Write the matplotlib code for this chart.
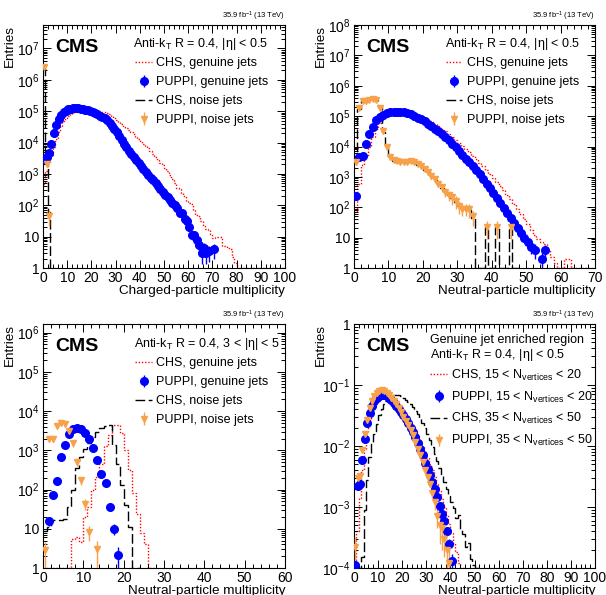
import numpy as np
import matplotlib
matplotlib.use('Agg')
import matplotlib.pyplot as plt
from matplotlib.ticker import FixedLocator, FuncFormatter, MultipleLocator, LogLocator, NullFormatter
from matplotlib.lines import Line2D

plt.rcParams['font.family'] = ['Liberation Sans', 'DejaVu Sans']
plt.rcParams['mathtext.fontset'] = 'custom'
plt.rcParams['mathtext.rm'] = 'Liberation Sans'
plt.rcParams['mathtext.it'] = 'Liberation Sans:italic'
plt.rcParams['mathtext.bf'] = 'Liberation Sans:bold'
plt.rcParams['mathtext.sf'] = 'Liberation Sans'

# ---------------- colours ----------------
C_RED = '#ff0000'
C_BLUE = '#0000ff'
C_BLACK = '#000000'
C_ORANGE = '#f7a24a'

# ---------------- panel 1: charged multiplicity, |eta|<0.5 ----------------
p1_chs_gen = [470, 1200, 2300, 4000, 7000, 1.3e4, 2.2e4, 3.4e4, 4.8e4, 6.0e4,
              7.0e4, 7.9e4, 8.6e4, 9.3e4, 1.0e5, 1.04e5, 1.07e5, 1.07e5, 1.07e5, 1.05e5,
              1.03e5, 1.0e5, 9.8e4, 9.6e4, 9.4e4, 9.2e4, 9.0e4, 8.2e4, 7.2e4, 6.2e4,
              5.3e4, 4.5e4, 3.9e4, 3.4e4, 2.9e4, 2.5e4, 2.15e4, 1.82e4, 1.55e4, 1.32e4,
              1.12e4, 9.3e3, 7.8e3, 6.5e3, 5.2e3, 4.3e3, 3.5e3, 2.8e3, 2.3e3, 1.86e3,
              1.5e3, 1.25e3, 950, 710, 500, 355, 320, 250, 200, 140,
              120, 112, 70, 50, 45, 32, 22, 18, 16, 12.5,
              9, 10, 10, 10, 5, 5, 4.5, 4, 2.3, 1.4,
              0, 0, 0, 0, 0, 0, 0, 0, 0, 0,
              0, 0, 0, 0, 0, 0, 0, 0, 0, 0]
p1_puppi_gen = [3.0e3, 3.5e3, 4.6e3, 9.0e3, 2.0e4, 3.5e4, 5.6e4, 7.6e4, 9.3e4, 1.05e5,
                1.15e5, 1.2e5, 1.23e5, 1.24e5, 1.23e5, 1.21e5, 1.18e5, 1.13e5, 1.08e5, 1.02e5,
                9.4e4, 8.7e4, 7.9e4, 7.2e4, 6.6e4, 5.9e4, 5.1e4, 4.3e4, 3.4e4, 2.7e4,
                2.1e4, 1.62e4, 1.23e4, 9.1e3, 7.1e3, 5.5e3, 4.4e3, 3.5e3, 2.75e3, 2.2e3,
                1.74e3, 1.41e3, 1.15e3, 930, 760, 620, 500, 410, 330, 270,
                220, 178, 145, 120, 100, 80, 57, 56, 36, 32,
                21, 11, 11, 8, 5.5, 3, 4.2, 3, 3.4, 0,
                3.9]
p1_puppi_gen_err = [0] * 60 + [4.6, 3.3, 3.3, 2.8, 2.3, 1.7, 2.0, 1.7, 1.8, 0, 2.0]
p1_chs_noise = [2.4e6, 2.1e3, 60, 0, 0]
p1_puppi_noise = [2.5e6, 2.0e3, 47]
p1_puppi_noise_err = [0, 300, 25]

# ---------------- panel 2: neutral multiplicity, |eta|<0.5 ----------------
p2_chs_gen = [70, 600, 2.5e3, 5.0e3, 1.0e4, 2.0e4, 3.8e4, 6.0e4, 8.5e4, 1.05e5,
              1.2e5, 1.3e5, 1.36e5, 1.38e5, 1.36e5, 1.31e5, 1.24e5, 1.15e5, 1.05e5, 9.4e4,
              8.3e4, 7.3e4, 6.3e4, 5.4e4, 4.6e4, 3.9e4, 3.2e4, 2.6e4, 2.1e4, 1.7e4,
              1.35e4, 1.07e4, 8.4e3, 6.5e3, 5.0e3, 3.8e3, 2.9e3, 2.2e3, 1.65e3, 1.25e3,
              930, 690, 500, 360, 260, 180, 125, 85, 60, 40,
              28, 18, 12, 9, 7, 6, 4, 2.3, 1.5, 0,
              0, 2, 2, 0, 0, 0, 0, 0, 0, 0]
p2_puppi_gen = [240, 4.6e3, 4.8e3, 1.2e4, 2.5e4, 4.4e4, 7.2e4, 9.5e4, 1.12e5, 1.25e5,
                1.33e5, 1.38e5, 1.4e5, 1.38e5, 1.33e5, 1.25e5, 1.15e5, 1.03e5, 9.0e4, 7.8e4,
                6.7e4, 5.7e4, 4.7e4, 3.9e4, 3.2e4, 2.6e4, 2.05e4, 1.6e4, 1.25e4, 9.5e3,
                7.0e3, 5.3e3, 4.0e3, 3.0e3, 2.25e3, 1.65e3, 1.2e3, 850, 600, 420,
                290, 200, 140, 95, 65, 45, 31, 21, 14, 10,
                7, 5, 4, 0, 2, 3.8]
p2_puppi_gen_err = [0] * 50 + [2.6, 2.2, 2.0, 0, 1.4, 2.0]
p2_chs_noise = [3.0e3, 1.7e5, 3.1e5, 3.2e5, 3.3e5, 3.6e5, 3.4e5, 2.0e5, 3.0e4, 1.1e4,
                4.5e3, 3.4e3, 3.2e3, 3.1e3, 3.0e3, 3.2e3, 3.2e3, 2.9e3, 2.5e3, 2.2e3,
                1.7e3, 1.4e3, 1.1e3, 800, 600, 440, 330, 250, 200, 150,
                110, 95, 85, 80, 45, 0, 0, 0, 22, 0,
                0, 22, 0, 0, 0, 22, 0, 0]
p2_puppi_noise = [3.0e3, 1.8e5, 3.2e5, 3.2e5, 3.3e5, 3.7e5, 3.5e5, 1.9e5, 3.3e4, 1.0e4,
                  4.4e3, 3.5e3, 3.3e3, 3.1e3, 3.0e3, 3.1e3, 3.3e3, 3.0e3, 2.6e3, 2.2e3,
                  1.8e3, 1.4e3, 1.1e3, 850, 600, 450, 330, 250, 220, 160,
                  110, 90, 90, 85, 50, 0, 0, 0, 22, 0,
                  0, 22, 0, 0, 0, 22]
p2_puppi_noise_err = [600, 0, 0, 0, 0, 0, 0, 0, 3000, 1000,
                      500, 400, 400, 400, 400, 400, 400, 400, 350, 300,
                      300, 250, 250, 200, 150, 130, 110, 90, 100, 70,
                      50, 40, 40, 40, 25, 0, 0, 0, 13, 0,
                      0, 13, 0, 0, 0, 13]

# ---------------- panel 3: neutral multiplicity, 3<|eta|<5 ----------------
p3_chs_gen = [0, 0, 0, 0, 0, 0, 0, 5.6, 6.2, 4.6,
              20, 36, 96, 210, 460, 1.3e3, 2.5e3, 4.4e3, 4.5e3, 2.8e3,
              1.0e3, 310, 80, 24, 8, 4, 0, 0]
p3_puppi_gen = [0, 16, 72, 166, 680, 1.4e3, 2.6e3, 3.4e3, 3.6e3, 3.4e3,
                2.8e3, 1.9e3, 1.15e3, 580, 256, 150, 35, 10, 2.1]
p3_puppi_gen_err = [0, 4, 8, 0, 0, 0, 0, 0, 0, 0,
                    0, 0, 0, 0, 0, 0, 5, 3, 1.4]
p3_chs_noise = [9, 11, 17, 17, 17, 18, 36, 96, 345, 680,
                1.07e3, 1.5e3, 2.2e3, 3.0e3, 3.6e3, 4.1e3, 4.4e3, 1.35e3, 460, 130,
                40, 11, 0, 0]
p3_puppi_noise = [2.8, 2.0e3, 1.9e3, 4.1e3, 5.0e3, 4.7e3, 3.2e3, 1.5e3, 500, 173,
                  44, 8.5, 0, 3.0]
p3_puppi_noise_err = [1.8, 300, 300, 500, 600, 500, 400, 250, 100, 40,
                      14, 3.5, 0, 2.0]

# ---------------- panel 4: normalised, genuine-jet enriched region ----------------
p4_chs_low = [1.0e-4, 4.0e-4, 1.4e-3, 4.0e-3, 9.0e-3, 1.7e-2, 2.7e-2, 3.7e-2, 4.7e-2, 5.4e-2,
              5.9e-2, 6.2e-2, 6.3e-2, 6.2e-2, 6.0e-2, 5.6e-2, 5.2e-2, 4.8e-2, 4.3e-2, 3.9e-2,
              3.5e-2, 3.1e-2, 2.7e-2, 2.35e-2, 2.0e-2, 1.7e-2, 1.45e-2, 1.2e-2, 9.8e-3, 8.0e-3,
              6.4e-3, 5.1e-3, 4.0e-3, 3.1e-3, 2.4e-3, 1.8e-3, 1.35e-3, 1.0e-3, 7.3e-4, 5.2e-4,
              3.7e-4, 2.6e-4, 1.8e-4, 1.2e-4, 0, 0]
p4_puppi_low = [1.1e-4, 2.2e-3, 2.4e-3, 6.0e-3, 1.3e-2, 2.4e-2, 3.5e-2, 4.6e-2, 5.5e-2, 6.1e-2,
                6.6e-2, 6.9e-2, 6.8e-2, 6.5e-2, 6.1e-2, 5.6e-2, 5.1e-2, 4.6e-2, 4.1e-2, 3.6e-2,
                3.2e-2, 2.75e-2, 2.35e-2, 2.0e-2, 1.7e-2, 1.4e-2, 1.1e-2, 8.8e-3, 7.0e-3, 5.3e-3,
                4.2e-3, 3.3e-3, 2.6e-3, 2.0e-3, 1.45e-3, 1.05e-3, 7.8e-4, 5.8e-4, 4.0e-4, 2.5e-4,
                1.3e-4]
p4_puppi_low_err = [0] * 38 + [5e-5, 5e-5, 4e-5]
p4_chs_high = [0, 0, 0, 1.5e-4, 9.0e-4, 2.8e-3, 6.5e-3, 1.1e-2, 1.6e-2, 2.3e-2,
               3.2e-2, 4.0e-2, 4.8e-2, 5.5e-2, 6.1e-2, 6.5e-2, 6.8e-2, 6.9e-2, 6.8e-2, 6.5e-2,
               6.1e-2, 5.7e-2, 5.2e-2, 4.8e-2, 4.3e-2, 3.8e-2, 3.3e-2, 2.9e-2, 2.4e-2, 2.0e-2,
               1.6e-2, 1.25e-2, 9.5e-3, 7.3e-3, 5.6e-3, 4.3e-3, 3.3e-3, 2.6e-3, 2.0e-3, 1.5e-3,
               1.2e-3, 9.5e-4, 6.5e-4, 7.5e-4, 4.2e-4, 3.6e-4, 2.2e-4, 2.6e-4, 1.4e-4, 1.1e-4,
               0, 0]
p4_puppi_high = [2.2e-4, 3.0e-3, 3.2e-3, 8.7e-3, 1.6e-2, 2.7e-2, 4.2e-2, 5.5e-2, 6.5e-2, 7.4e-2,
                 8.0e-2, 8.2e-2, 8.0e-2, 7.5e-2, 6.9e-2, 6.2e-2, 5.5e-2, 4.8e-2, 4.2e-2, 3.6e-2,
                 3.0e-2, 2.6e-2, 2.2e-2, 1.8e-2, 1.5e-2, 1.15e-2, 9.0e-3, 7.0e-3, 5.5e-3, 4.0e-3,
                 3.1e-3, 2.4e-3, 1.7e-3, 1.2e-3, 7.0e-4, 5.0e-4, 4.5e-4, 3.0e-4, 2.0e-4, 1.2e-4]
p4_puppi_high_err = [1e-4, 3e-4, 3e-4, 5e-4, 0, 0, 0, 0, 0, 0,
                     0, 0, 0, 0, 0, 0, 0, 0, 0, 0,
                     0, 0, 0, 0, 0, 0, 0, 0, 0, 3e-4,
                     3e-4, 3e-4, 3e-4, 3e-4, 2.5e-4, 2.5e-4, 2.5e-4, 1.5e-4, 1e-4, 8e-5]

LUMI = r'35.9 fb$^{-1}$ (13 TeV)'

# ---------------- helpers ----------------
def log_formatter(v, pos):
    e = int(round(np.log10(v)))
    if e == 0:
        return '1'
    if e == 1:
        return '10'
    return r'$10^{%d}$' % e


def setup_axes(ax, xmax, ylo, yhi, xlabel, lo_exp, hi_exp):
    ax.set_yscale('log')
    ax.set_xlim(0, xmax)
    ax.set_ylim(ylo, yhi)
    ax.xaxis.set_major_locator(MultipleLocator(10))
    ax.xaxis.set_minor_locator(MultipleLocator(2))
    ax.yaxis.set_major_locator(FixedLocator([10.0 ** e for e in range(lo_exp, hi_exp + 1)]))
    ax.yaxis.set_minor_locator(LogLocator(base=10, subs=np.arange(2, 10), numticks=60))
    ax.yaxis.set_minor_formatter(NullFormatter())
    ax.yaxis.set_major_formatter(FuncFormatter(log_formatter))
    ax.tick_params(which='both', direction='in', top=True, right=True,
                   labelsize=10, width=0.7, pad=2.5)
    ax.tick_params(which='major', length=6)
    ax.tick_params(which='minor', length=3)
    for s in ax.spines.values():
        s.set_linewidth(0.8)
    ax.set_xlabel(xlabel, fontsize=9.7, loc='right', labelpad=0)
    ax.set_ylabel('Entries', fontsize=9.7, loc='top')
    ax.yaxis.set_label_coords(-0.112, 1.0)
    ax.text(1.0, 1.008, LUMI, transform=ax.transAxes, ha='right', va='bottom', fontsize=5.5)
    ax.text(0.05, 0.89, 'CMS', transform=ax.transAxes, ha='left', va='baseline',
            fontsize=14, fontweight='bold')


def draw_hist(ax, vals, color, ls, lw, floor):
    vals = np.asarray(vals, float)
    edges = np.arange(len(vals) + 1)
    pv = np.where(vals > 0, vals, floor)
    ax.stairs(pv, edges, baseline=None, color=color, linestyle=ls, lw=lw)
    return Line2D([], [], color=color, ls=ls, lw=lw)


def draw_points(ax, vals, errs, color, marker, ms):
    vals = np.asarray(vals, float)
    errs = np.asarray(errs, float)
    x = np.arange(len(vals)) + 0.5
    m = vals > 0
    return ax.errorbar(x[m], vals[m], yerr=errs[m], fmt=marker, color=color, ms=ms,
                       mec=color, elinewidth=1.0, capsize=0, zorder=3)


RED_LS = (0, (1.0, 1.3))
BLK_LS = (0, (7, 2.5))
MS_B = 5.5
MS_O = 4.8


def add_legend(ax, handles, labels, x, ytop, spacing):
    ax.legend(handles, labels, loc='upper left', bbox_to_anchor=(x, ytop),
              bbox_transform=ax.transAxes, frameon=False, fontsize=9,
              handlelength=1.3, handletextpad=0.35, labelspacing=spacing,
              borderpad=0, borderaxespad=0)


fig = plt.figure(figsize=(6.06, 5.95), dpi=100)
W, H = 606.0, 595.0
ax1 = fig.add_axes([43 / W, 1 - 268 / H, 242 / W, 243 / H])
ax2 = fig.add_axes([354 / W, 1 - 268 / H, 241 / W, 243 / H])
ax3 = fig.add_axes([43 / W, 1 - 568 / H, 242 / W, 244 / H])
ax4 = fig.add_axes([354 / W, 1 - 568 / H, 241 / W, 244 / H])

labels_a = ['CHS, genuine jets', 'PUPPI, genuine jets', 'CHS, noise jets', 'PUPPI, noise jets']

# panel 1
setup_axes(ax1, 100, 1, 5.6e7, 'Charged-particle multiplicity', 0, 7)
h1 = draw_hist(ax1, p1_chs_gen, C_RED, RED_LS, 1.0, 1.0)
h3 = draw_hist(ax1, p1_chs_noise, C_BLACK, BLK_LS, 1.0, 1.0)
h2 = draw_points(ax1, p1_puppi_gen, p1_puppi_gen_err, C_BLUE, 'o', MS_B)
h4 = draw_points(ax1, p1_puppi_noise, p1_puppi_noise_err, C_ORANGE, 'v', MS_O)
ax1.text(0.372, 0.911, r'Anti-k$_\mathrm{T}$ R = 0.4, |η| < 0.5', transform=ax1.transAxes,
         fontsize=9, va='baseline', ha='left')
add_legend(ax1, [h1, h2, h3, h4], labels_a, 0.382, 0.867, 0.55)

# panel 2
setup_axes(ax2, 70, 1, 1e8, 'Neutral-particle multiplicity', 0, 8)
h1 = draw_hist(ax2, p2_chs_gen, C_RED, RED_LS, 1.0, 1.0)
h3 = draw_hist(ax2, p2_chs_noise, C_BLACK, BLK_LS, 1.0, 1.0)
h2 = draw_points(ax2, p2_puppi_gen, p2_puppi_gen_err, C_BLUE, 'o', MS_B)
h4 = draw_points(ax2, p2_puppi_noise, p2_puppi_noise_err, C_ORANGE, 'v', MS_O)
ax2.text(0.376, 0.911, r'Anti-k$_\mathrm{T}$ R = 0.4, |η| < 0.5', transform=ax2.transAxes,
         fontsize=9, va='baseline', ha='left')
add_legend(ax2, [h1, h2, h3, h4], labels_a, 0.382, 0.867, 0.55)

# panel 3
setup_axes(ax3, 60, 1, 1.66e6, 'Neutral-particle multiplicity', 0, 6)
h1 = draw_hist(ax3, p3_chs_gen, C_RED, RED_LS, 1.0, 1.0)
h3 = draw_hist(ax3, p3_chs_noise, C_BLACK, BLK_LS, 1.0, 1.0)
h2 = draw_points(ax3, p3_puppi_gen, p3_puppi_gen_err, C_BLUE, 'o', MS_B)
h4 = draw_points(ax3, p3_puppi_noise, p3_puppi_noise_err, C_ORANGE, 'v', MS_O)
ax3.text(0.376, 0.907, r'Anti-k$_\mathrm{T}$ R = 0.4, 3 < |η| < 5', transform=ax3.transAxes,
         fontsize=9, va='baseline', ha='left')
add_legend(ax3, [h1, h2, h3, h4], labels_a, 0.382, 0.863, 0.55)

# panel 4
setup_axes(ax4, 100, 1e-4, 1, 'Neutral-particle multiplicity', -4, 0)
h1 = draw_hist(ax4, p4_chs_low, C_RED, RED_LS, 1.0, 1e-4)
h3 = draw_hist(ax4, p4_chs_high, C_BLACK, BLK_LS, 1.0, 1e-4)
h2 = draw_points(ax4, p4_puppi_low, p4_puppi_low_err, C_BLUE, 'o', MS_B)
h4 = draw_points(ax4, p4_puppi_high, p4_puppi_high_err, C_ORANGE, 'v', MS_O)
ax4.text(0.314, 0.922, 'Genuine jet enriched region', transform=ax4.transAxes,
         fontsize=9, va='baseline', ha='left')
ax4.text(0.314, 0.861, r'Anti-k$_\mathrm{T}$ R = 0.4, |η| < 0.5', transform=ax4.transAxes,
         fontsize=9, va='baseline', ha='left')
labels_b = [r'CHS, 15 < N$_\mathrm{vertices}$ < 20', r'PUPPI, 15 < N$_\mathrm{vertices}$ < 20',
            r'CHS, 35 < N$_\mathrm{vertices}$ < 50', r'PUPPI, 35 < N$_\mathrm{vertices}$ < 50']
add_legend(ax4, [h1, h2, h3, h4], labels_b, 0.317, 0.822, 0.55)

fig.savefig('out.png', dpi=100)
